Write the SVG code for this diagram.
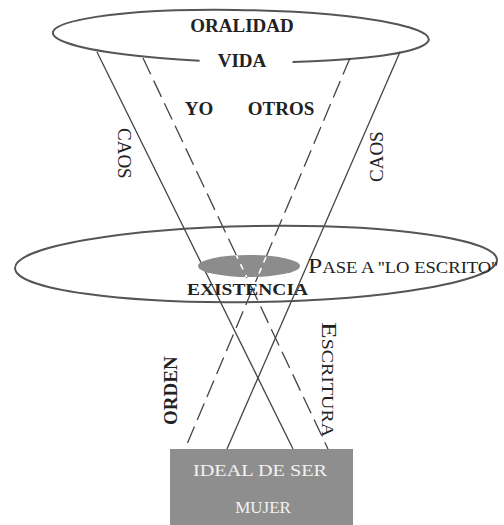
<svg xmlns="http://www.w3.org/2000/svg" width="504" height="525" viewBox="0 0 504 525">
  <style>
    text { font-family: "Liberation Serif", "Times New Roman", serif; fill: #222; }
    .b { font-weight: bold; font-size: 19px; }
    .r { font-size: 19px; }
    .ell { fill: none; stroke: #555; stroke-width: 2; }
    .ln { stroke: #444; stroke-width: 1.3; fill: none; }
    .dash { stroke-dasharray: 18 7; }
    .wl { stroke: #fff; stroke-width: 1.6; stroke-dasharray: 6 6; }
    .box { fill: #f2f2f2; font-size: 17px; }
  </style>
  <defs>
    <clipPath id="inner">
      <ellipse cx="249" cy="266" rx="51" ry="11"/>
    </clipPath>
  </defs>
  <rect width="504" height="525" fill="#fff"/>

  <g id="oralidad">
    <path class="ell" d="M 293 61 A 188 26 0 1 0 200 61.4" transform="rotate(1 241 36)"/>
    <text class="b" x="242" y="32" text-anchor="middle">ORALIDAD</text>
    <text class="b" x="242" y="67" text-anchor="middle">VIDA</text>
    <text class="b" x="199" y="115" text-anchor="middle">YO</text>
    <text class="b" x="281" y="115" text-anchor="middle">OTROS</text>
  </g>

  <g id="connectors">
    <line class="ln" x1="97" y1="52" x2="293" y2="449"/>
    <line class="ln" x1="400" y1="52" x2="227" y2="449"/>
    <line class="ln dash" x1="143" y1="58" x2="328" y2="449"/>
    <line class="ln dash" x1="350" y1="58" x2="185" y2="449"/>
  </g>

  <g id="existencia">
    <ellipse class="ell" cx="256" cy="264" rx="241" ry="38" transform="rotate(-1 256 264)"/>
    <ellipse cx="249" cy="266" rx="51" ry="11" fill="#8c8c8c"/>
    <g clip-path="url(#inner)">
      <line class="wl" x1="143" y1="58" x2="328" y2="449"/>
      <line class="wl" x1="350" y1="58" x2="185" y2="449"/>
    </g>
    <text x="187" y="295" textLength="121" lengthAdjust="spacingAndGlyphs" style="font-size:17px;font-weight:bold">EXISTENCIA</text>
    <text x="308" y="273" textLength="190" lengthAdjust="spacingAndGlyphs"><tspan style="font-size:22px">P</tspan><tspan style="font-size:16px">ASE A ''LO ESCRITO''</tspan></text>
  </g>

  <g id="labels">
    <text class="r" transform="translate(118 128) rotate(90)">CAOS</text>
    <text class="r" transform="translate(383 182) rotate(-90)">CAOS</text>
    <text class="b" transform="translate(177 425) rotate(-90)">ORDEN</text>
    <text transform="translate(322 322) rotate(90)" textLength="115" lengthAdjust="spacingAndGlyphs"><tspan style="font-size:22px">E</tspan><tspan style="font-size:16px">SCRITURA</tspan></text>
  </g>

  <g id="ideal">
    <rect x="170" y="449" width="183" height="80" fill="#8e8e8e"/>
    <text class="box" x="260" y="476" text-anchor="middle" textLength="134" lengthAdjust="spacingAndGlyphs">IDEAL DE SER</text>
    <text class="box" x="263" y="513" text-anchor="middle">MUJER</text>
  </g>
</svg>
